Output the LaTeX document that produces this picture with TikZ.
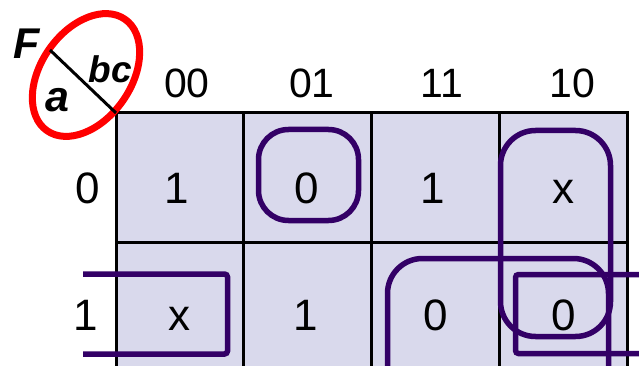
\documentclass[tikz,border=0pt]{standalone}
\usepackage{fontspec}
\setmainfont{Liberation Sans}
\usepackage{xcolor}
\usetikzlibrary{positioning}
\definecolor{kfill}{RGB}{217,217,236}
\definecolor{kloop}{RGB}{51,0,102}
\begin{document}
\begin{tikzpicture}[x=1pt,y=-1pt,
  kval/.style={font=\fontsize{44}{44}\selectfont,anchor=base,inner sep=0pt},
  khdr/.style={font=\fontsize{41}{41}\selectfont,anchor=base,inner sep=0pt},
  kvar/.style={font=\bfseries\itshape\fontsize{#1}{#1}\selectfont,anchor=base,inner sep=0pt},
  kvar/.default=43,
  kgroup/.style={draw=kloop,line width=5.5pt,rounded corners=#1},
  kgroup/.default=32pt]
\useasboundingbox(0,0)rectangle(639,366);
\clip(0,0)rectangle(639,366);
% the map
\coordinate(corner)at(116,113);
\fill[kfill](corner)rectangle(627,400);
\draw[line width=3pt](116,400)--(corner)--(627,113)--(627,400);
\draw[line width=3pt](243,113)--(243,400)(371,113)--(371,400)(499,113)--(499,400);
\draw[line width=3pt](116,242)--(627,242);
% corner label
\draw[red,line width=7pt,rotate around={-35:(86,75)}](86,75)ellipse[x radius=45pt,y radius=68pt];
\coordinate(slash)at(50,50);
\draw[line width=3pt](slash)--(corner);
\node[kvar](fvar)at(27,59){F};
\node[kvar](avar)at(57,112){a};
\node[kvar=37](bcvar)at(110,83){bc};
% column and row heads
\node[khdr](h00)at(187,98){00};
\node[khdr](h01)at(312,98){01};
\node[khdr](h11)at(442,98){11};
\node[khdr](h10)at(572,98){10};
\node[kval](r0)at(88,203){0};
\node[kval](r1)at(86,330){1};
% cells
\node[kval](m0)at(177,203){1};
\node[kval](m2)at(307,203){0};
\node[kval](m6)at(433,203){1};
\node[kval](m4)at(563,203){x};
\node[kval](m1)at(179,330){x};
\node[kval](m3)at(306,330){1};
\node[kval](m7)at(436,330){0};
\node[kval](m5)at(564,330){0};
% groups
\draw[kgroup=30pt](258.5,129.5)rectangle(358.5,220.5);
\draw[kgroup=35pt](500.5,130.5)rectangle(610.5,336.5);
\draw[kgroup=35pt](387.5,258.5)rectangle(608.5,420);
\draw[kgroup=3pt](650,274.5)--(515.5,274.5)--(515.5,353.5)--(650,353.5);
\draw[kgroup=3pt](83,274)--(227.5,274)--(227.5,354)--(83,354);
\end{tikzpicture}
\end{document}
